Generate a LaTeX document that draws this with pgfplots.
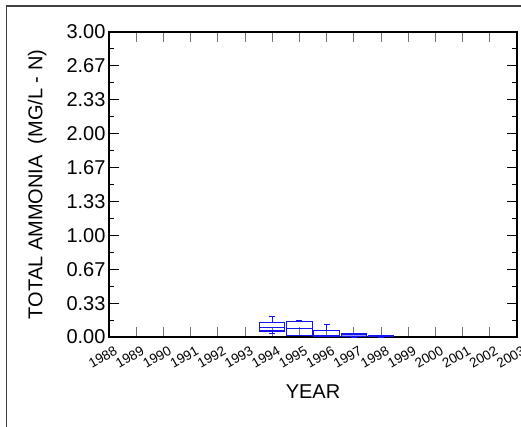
\documentclass[border=0pt]{standalone}
\usepackage{pgfplots}
\pgfplotsset{compat=1.18}
\usepgfplotslibrary{statistics}
\usepackage{fontspec}
\setmainfont{Liberation Sans}
\definecolor{boxblue}{RGB}{20,20,240}
\begin{document}
\begin{tikzpicture}
\useasboundingbox (0pt,0pt) rectangle (521pt,426pt);
\draw[line width=1.6pt, black!75] (6.5pt,-20pt) rectangle (560pt,420pt);
\begin{axis}[
  at={(109pt,89pt)}, anchor=south west,
  width=408pt, height=305pt, scale only axis,
  xmin=0, xmax=15, ymin=0, ymax=3,
  xtick={0,1,...,15},
  xticklabels={1988,1989,1990,1991,1992,1993,1994,1995,1996,1997,1998,1999,2000,2001,2002,2003},
  ytick={0,0.3333,0.6667,1,1.3333,1.6667,2,2.3333,2.6667,3},
  yticklabels={0.00,0.33,0.67,1.00,1.33,1.67,2.00,2.33,2.67,3.00},
  minor ytick={0.1667,0.5,0.8333,1.1667,1.5,1.8333,2.1667,2.5,2.8333},
  major tick length=10pt, minor tick length=5pt,
  tick align=inside,
  axis line style={line width=1.3pt},
  every tick/.style={line width=1pt, black},
  x tick style={line width=1pt, black!55},
  yticklabel style={font=\fontsize{20}{20}\selectfont},
  xticklabel style={font=\fontsize{13.5}{13.5}\selectfont, rotate=30, anchor=north east, xshift=3pt, yshift=-6pt},
  xlabel={YEAR}, xlabel style={font=\fontsize{20}{20}\selectfont, at={(axis description cs:0.5,-0.203)}, anchor=base},
  ylabel={TOTAL AMMONIA\ \ (MG/L - N)}, ylabel style={font=\fontsize{20}{20}\selectfont, at={(axis description cs:-0.176,0.5)}, anchor=center},
  boxplot/draw direction=y,
  boxplot/box extend=0.94,
  boxplot/whisker extend=0.22,
]
\addplot+[boxblue, line width=1pt, mark=none, solid, boxplot prepared={draw position=6, lower whisker=0.03, lower quartile=0.052, median=0.092, upper quartile=0.14, upper whisker=0.20}] coordinates {};
\addplot+[boxblue, line width=1pt, mark=none, solid, boxplot prepared={draw position=7, lower whisker=0.01, lower quartile=0.01, median=0.082, upper quartile=0.157, upper whisker=0.16}] coordinates {};
\addplot+[boxblue, line width=1pt, mark=none, solid, boxplot prepared={draw position=8, lower whisker=0.003, lower quartile=0.005, median=0.01, upper quartile=0.062, upper whisker=0.125}] coordinates {};
\addplot+[boxblue, line width=1pt, mark=none, solid, fill=boxblue!45, boxplot prepared={draw position=9, lower whisker=0.0, lower quartile=0.005, median=0.02, upper quartile=0.03, upper whisker=0.035}] coordinates {};
\addplot+[boxblue, line width=1pt, mark=none, solid, boxplot prepared={draw position=10, lower whisker=0.0, lower quartile=0.002, median=0.005, upper quartile=0.01, upper whisker=0.01}] coordinates {};
\addplot[boxblue, line width=1pt] coordinates {(5.53,0.068) (6.47,0.068)};
\end{axis}
\end{tikzpicture}
\end{document}
